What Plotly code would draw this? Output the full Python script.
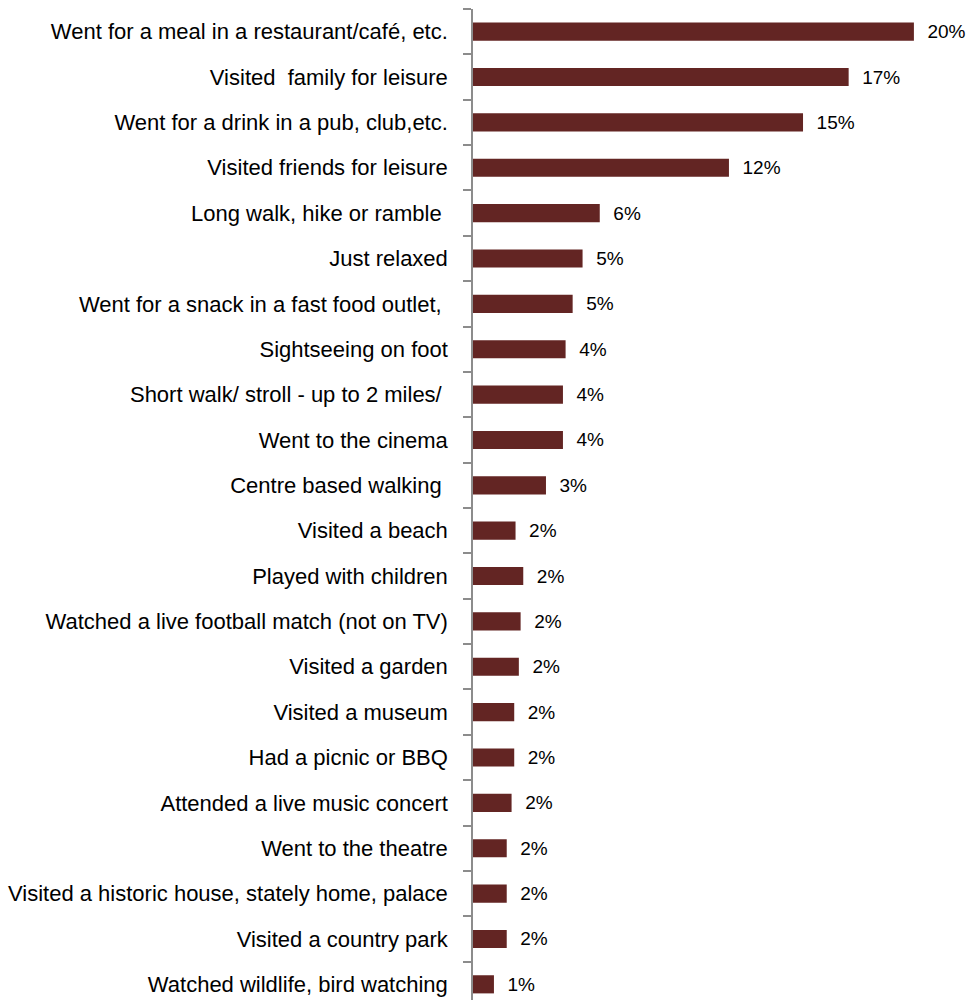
import plotly.graph_objects as go

# Leisure activities, share of respondents (%), top to bottom
activities = [
    "Went for a meal in a restaurant/café, etc.",
    "Visited  family for leisure",
    "Went for a drink in a pub, club,etc.",
    "Visited friends for leisure",
    "Long walk, hike or ramble ",
    "Just relaxed",
    "Went for a snack in a fast food outlet, ",
    "Sightseeing on foot",
    "Short walk/ stroll - up to 2 miles/ ",
    "Went to the cinema",
    "Centre based walking ",
    "Visited a beach",
    "Played with children",
    "Watched a live football match (not on TV)",
    "Visited a garden",
    "Visited a museum",
    "Had a picnic or BBQ",
    "Attended a live music concert",
    "Went to the theatre",
    "Visited a historic house, stately home, palace",
    "Visited a country park",
    "Watched wildlife, bird watching",
]
shares = [
    20.0, 17.04, 14.97, 11.61, 5.75, 4.97, 4.52, 4.20, 4.08, 4.08, 3.31,
    1.93, 2.28, 2.16, 2.08, 1.87, 1.87, 1.75, 1.53, 1.53, 1.53, 0.95,
]

BAR_COLOR = "#632523"
AXIS_COLOR = "#8c8c8c"
FONT = "Liberation Sans Narrow, Arial Narrow, Liberation Sans, Arial, sans-serif"

fig = go.Figure(
    go.Bar(
        x=shares,
        y=activities,
        orientation="h",
        marker=dict(color=BAR_COLOR, line=dict(width=0)),
        texttemplate="\u00a0\u00a0%{x:.0f}%",
        textposition="outside",
        constraintext="none",
        cliponaxis=False,
        textfont=dict(family=FONT, size=19, color="#000000"),
        hoverinfo="skip",
    )
)

fig.update_layout(
    width=971,
    height=1010,
    margin=dict(l=473, r=13, t=9, b=3),
    paper_bgcolor="white",
    plot_bgcolor="white",
    bargap=0.6,
    showlegend=False,
    font=dict(family=FONT, size=22, color="#000000"),
)

fig.update_xaxes(
    range=[0, 22],
    visible=False,
    showgrid=False,
    zeroline=False,
)

fig.update_yaxes(
    type="category",
    categoryorder="array",
    categoryarray=activities,
    autorange="reversed",
    showgrid=False,
    zeroline=False,
    showline=True,
    linecolor=AXIS_COLOR,
    linewidth=1.5,
    ticks="outside",
    tickson="boundaries",
    ticklen=8,
    tickwidth=1.5,
    tickcolor=AXIS_COLOR,
    ticklabelstandoff=19,
    tickfont=dict(family=FONT, size=22, color="#000000"),
)

fig.write_html("out.html")
